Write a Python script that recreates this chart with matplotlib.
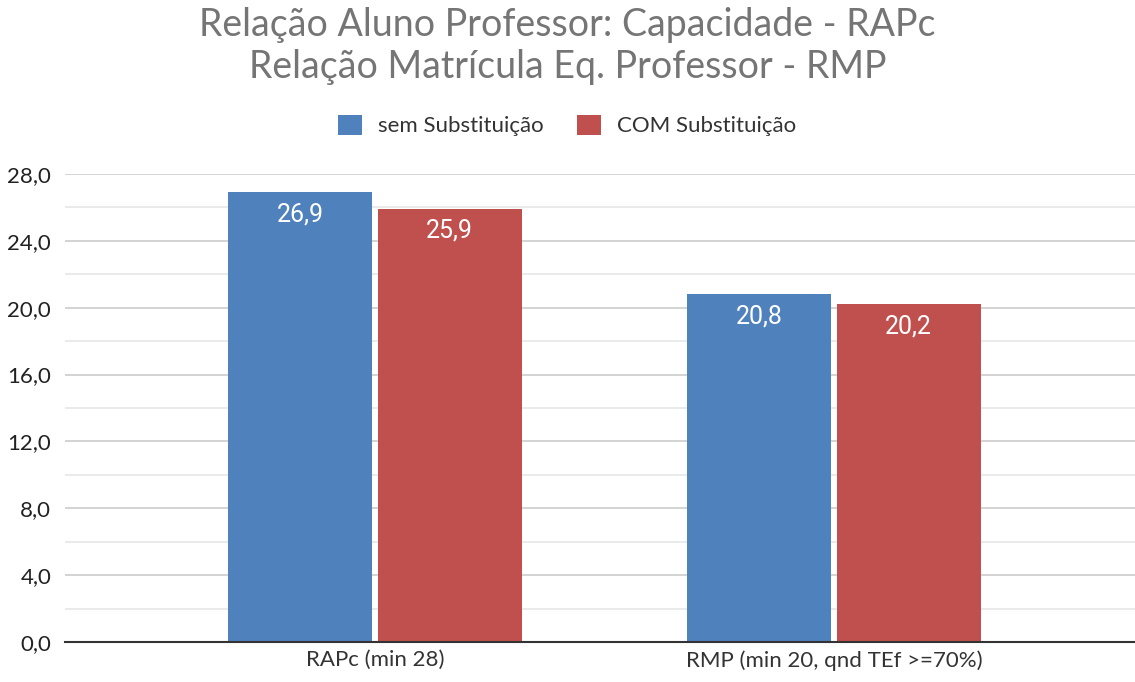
import numpy as np
import matplotlib.pyplot as plt
from matplotlib.ticker import MultipleLocator, FuncFormatter

# data
categories = ['RAPc (min 28)', 'RMP (min 20, qnd TEf >=70%)']
series_names = ['sem Substituição', 'COM Substituição']
sem_subst = [26.9, 20.8]
com_subst = [25.9, 20.2]

colors = ['#4F81BD', '#C0504D']
font = 'Lato'

fig = plt.figure(figsize=(11.35, 6.82), dpi=100)
ax = fig.add_axes([0.0573, 0.0587, 0.9427, 0.6862])

x = np.arange(len(categories))
width = 0.314
offset = 0.163

bars1 = ax.bar(x - offset, sem_subst, width, color=colors[0], label=series_names[0], zorder=3)
bars2 = ax.bar(x + offset, com_subst, width, color=colors[1], label=series_names[1], zorder=3)

# value labels inside bars, white
for bars in (bars1, bars2):
    for b in bars:
        h = b.get_height()
        ax.annotate(f'{h:.1f}'.replace('.', ','),
                    (b.get_x() + b.get_width() / 2, h),
                    xytext=(0, -7), textcoords='offset points',
                    ha='center', va='top', color='white',
                    fontsize=18, family='Roboto', zorder=4)

ax.set_ylim(0, 28)
ax.set_xlim(-0.675, 1.656)
ax.yaxis.set_major_locator(MultipleLocator(4))
ax.yaxis.set_minor_locator(MultipleLocator(2))
ax.yaxis.set_major_formatter(FuncFormatter(lambda v, p: f'{v:.1f}'.replace('.', ',')))
ax.grid(axis='y', which='major', color='#cccccc', linewidth=1.2, zorder=0)
ax.grid(axis='y', which='minor', color='#e6e6e6', linewidth=1.2, zorder=0)
ax.set_axisbelow(True)

for s in ['top', 'right', 'left']:
    ax.spines[s].set_visible(False)
ax.spines['bottom'].set_color('#333333')
ax.spines['bottom'].set_linewidth(1.5)
ax.spines['bottom'].set_zorder(5)

ax.set_xticks(x)
ax.set_xticklabels(categories)
ax.tick_params(axis='x', length=0, pad=6, labelsize=16, labelcolor='#333333')
ax.tick_params(axis='y', which='both', length=0, pad=10, labelsize=16, labelcolor='#222222')
for lbl in ax.get_xticklabels() + ax.get_yticklabels():
    lbl.set_family(font)

fig.text(0.5, 0.99, 'Relação Aluno Professor: Capacidade - RAPc\nRelação Matrícula Eq. Professor - RMP',
         ha='center', va='top', fontsize=27, color='#757575', family=font, linespacing=1.2)

leg = fig.legend(loc='center', bbox_to_anchor=(0.5, 0.816), ncol=2, frameon=False,
                 prop={'family': font, 'size': 16}, handlelength=1.05, handleheight=1.05,
                 columnspacing=1.5, handletextpad=0.75)
for t in leg.get_texts():
    t.set_color('#333333')

fig.savefig('out.png', dpi=100)
